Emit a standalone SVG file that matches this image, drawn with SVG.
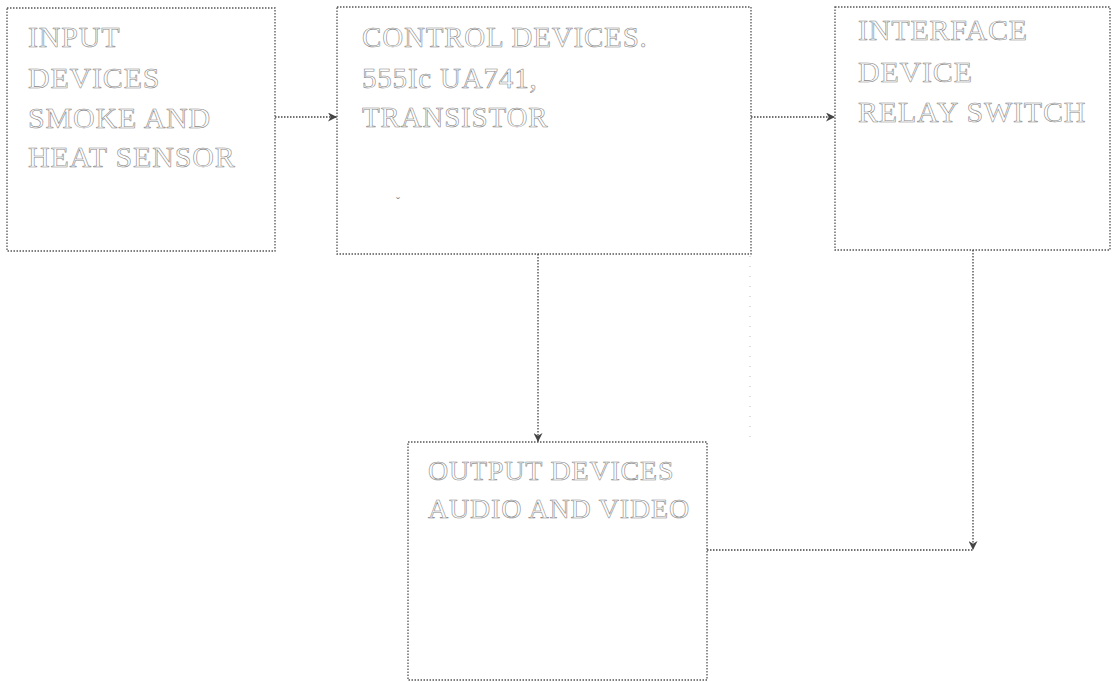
<svg xmlns="http://www.w3.org/2000/svg" width="1113" height="682" viewBox="0 0 1113 682">
<style>
.box{fill:#fff;stroke:#555;stroke-width:1.3;stroke-dasharray:1.5 1.5}
.lbl{font-family:"Liberation Serif","Times New Roman",serif;fill:#fff;stroke:#888;stroke-width:0.6;letter-spacing:0.8px}
.con{fill:none;stroke:#444;stroke-width:1.3;stroke-dasharray:1.5 1.5}
.faint{fill:none;stroke:#bbb;stroke-width:1;stroke-dasharray:1 9}
</style>
<defs>
<marker id="ah" viewBox="0 0 10 10" refX="10" refY="5" markerWidth="9" markerHeight="9" markerUnits="userSpaceOnUse" orient="auto">
<path d="M0,0 L10,5 L0,10 L3,5 Z" fill="#444"/>
</marker>
</defs>
<rect width="1113" height="682" fill="#fff"/>
<g id="input">
<rect class="box" x="7" y="8" width="268" height="243"/>
<text class="lbl" font-size="30"><tspan x="28" y="47">INPUT</tspan><tspan x="28" y="88">DEVICES</tspan><tspan x="28" y="128">SMOKE AND</tspan><tspan x="28" y="167">HEAT SENSOR</tspan></text>
</g>
<g id="control">
<rect class="box" x="337" y="7" width="414" height="247"/>
<text class="lbl" font-size="29"><tspan x="362" y="47">CONTROL DEVICES.</tspan><tspan x="362" y="88">555Ic UA741,</tspan><tspan x="362" y="127">TRANSISTOR</tspan></text>
<text x="396" y="206" font-family="Liberation Serif, serif" font-size="12" fill="#888">ˇ</text>
</g>
<g id="interface">
<rect class="box" x="835" y="7" width="275" height="243"/>
<text class="lbl" font-size="30"><tspan x="858" y="40">INTERFACE</tspan><tspan x="858" y="82">DEVICE</tspan><tspan x="858" y="122">RELAY SWITCH</tspan></text>
</g>
<g id="output">
<rect class="box" x="408" y="442" width="299" height="238"/>
<text class="lbl" font-size="28"><tspan x="428" y="480">OUTPUT DEVICES</tspan><tspan x="428" y="518">AUDIO AND VIDEO</tspan></text>
</g>
<g id="connectors">
<path class="con" d="M275,117 H337" marker-end="url(#ah)"/>
<path class="con" d="M751,117 H835" marker-end="url(#ah)"/>
<path class="con" d="M538,254 V442" marker-end="url(#ah)"/>
<path class="con" d="M973,250 V550" marker-end="url(#ah)"/>
<path class="con" d="M707,550 H973"/>
<path class="faint" d="M750,256 V440"/>
</g>
</svg>
